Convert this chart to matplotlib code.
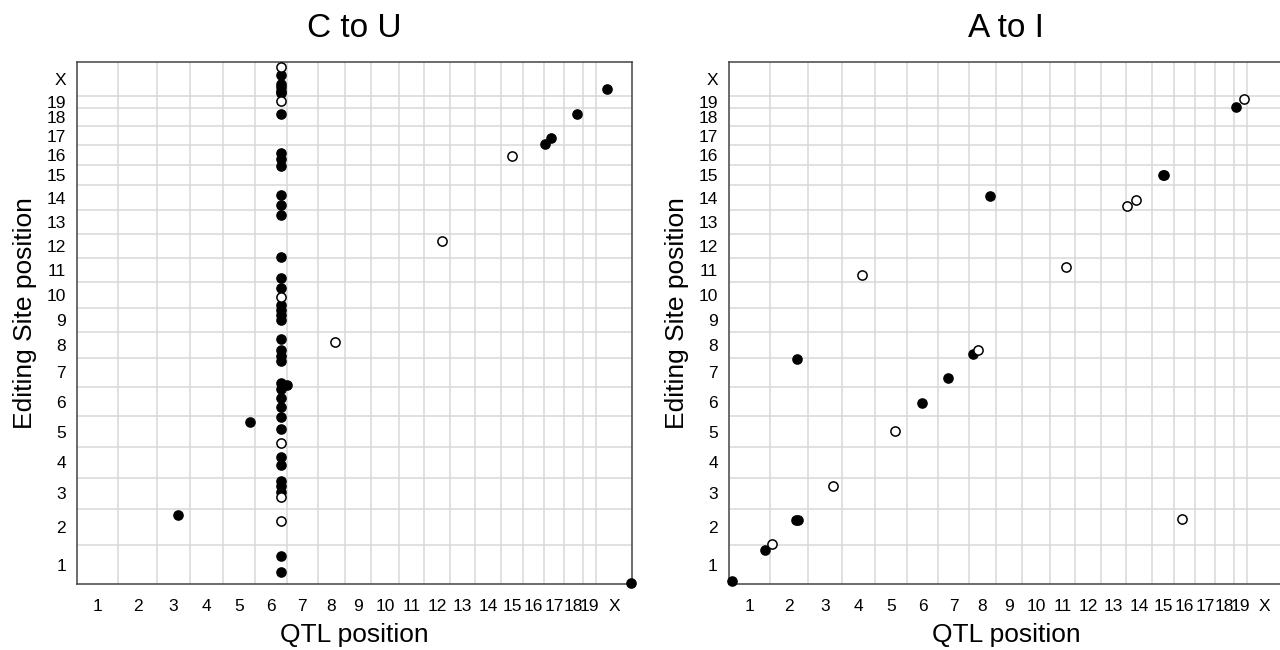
import numpy as np
import matplotlib
matplotlib.use("Agg")
import matplotlib.pyplot as plt

plt.rcParams['font.family'] = ['Liberation Sans', 'DejaVu Sans']

# mouse chromosomes and their lengths (Mb)
chroms = [str(i) for i in range(1, 20)] + ['X']
chrom_len = [195.5, 182.1, 160.0, 156.5, 151.8, 149.7, 145.4, 129.4, 124.6, 130.7,
             122.1, 120.1, 120.4, 124.9, 104.0, 98.2, 95.3, 90.7, 61.4, 171.0]

# C to U: genome-wide positions (Mb), filled = 1 / open = 0
ctou_qtl = [966, 966, 966, 968, 966, 968, 966, 968, 966, 968, 966, 966, 966, 968,
            966, 968, 966, 966, 966, 966, 968, 966, 968, 966, 968, 966, 966, 994,
            968, 966, 966, 966, 968, 966, 966, 968, 966, 968, 966, 966, 966, 968, 966,
            821, 478, 1226, 1731, 2062, 2220, 2247, 2374, 2516, 2628]
ctou_site = [2608, 2570, 2524, 2508, 2490, 2477, 2440, 2371, 2174, 2144, 2110, 1964,
             1913, 1863, 1652, 1546, 1493, 1450, 1408, 1383, 1358, 1333, 1235, 1181,
             1153, 1126, 1013, 1005, 985, 938, 895, 842, 781, 710, 643, 601, 522, 495,
             466, 438, 318, 143, 59,
             818, 347, 1223, 1732, 2161, 2220, 2250, 2374, 2498, 4]
ctou_filled = [0, 1, 1, 1, 1, 1, 0, 1, 1, 1, 1, 1, 1, 1, 1, 1, 1, 0, 1, 1, 1, 1, 1, 1,
               1, 1, 1, 1, 1, 1, 1, 1, 1, 0, 1, 1, 1, 1, 1, 0, 0, 1, 1,
               1, 1, 0, 0, 0, 1, 1, 1, 1, 1]

# A to I
atoi_qtl = [15, 172, 204, 318, 327, 322, 494, 790, 920, 1043, 1162, 1183, 633, 1240,
            1602, 1893, 1937, 2063, 2068, 2411, 2448, 2153]
atoi_site = [15, 172, 202, 323, 323, 1136, 495, 771, 915, 1039, 1160, 1181, 1562, 1960,
             1600, 1908, 1940, 2065, 2065, 2410, 2447, 327]
atoi_filled = [1, 1, 0, 1, 1, 1, 0, 0, 1, 1, 1, 0, 0, 1, 0, 0, 0, 1, 1, 1, 0, 0]

bounds = np.concatenate([[0], np.cumsum(chrom_len)])
centers = (bounds[:-1] + bounds[1:]) / 2
total = bounds[-1]

fig = plt.figure(figsize=(12.8, 6.5), dpi=100)
ax1 = fig.add_axes([0.0603, 0.1015, 0.4335, 0.8026])
ax2 = fig.add_axes([0.5695, 0.1015, 0.4327, 0.8026])


def draw(ax, qx, sy, filled, title):
    qx = np.array(qx, float)
    sy = np.array(sy, float)
    f = np.array(filled, bool)
    ax.scatter(qx[f], sy[f], s=44, color='black', zorder=3, clip_on=False)
    ax.scatter(qx[~f], sy[~f], s=44, facecolor='white', edgecolor='black',
               linewidths=1.1, zorder=4, clip_on=False)
    ax.set_xlim(0, total)
    ax.set_ylim(0, total)
    ax.set_xticks(centers)
    ax.set_xticklabels(chroms)
    ax.set_yticks(centers)
    ax.set_yticklabels(chroms)
    ax.set_xticks(bounds[1:-1], minor=True)
    ax.set_yticks(bounds[1:-1], minor=True)
    ax.tick_params(which='both', length=0, labelsize=12.5)
    ax.tick_params(axis='x', pad=11)
    ax.tick_params(axis='y', pad=8)
    ax.grid(which='minor', color='#d9d9d9', linewidth=1.1)
    ax.set_axisbelow(True)
    for s in ax.spines.values():
        s.set_color('#444444')
        s.set_linewidth(1.1)
    ax.set_title(title, fontsize=24, pad=18)
    ax.set_xlabel('QTL position', fontsize=19)
    ax.set_ylabel('Editing Site position', fontsize=19)
    ax.xaxis.set_label_coords(0.5, -0.075)
    ax.yaxis.set_label_coords(-0.072, 0.52)


draw(ax1, ctou_qtl, ctou_site, ctou_filled, 'C to U')
draw(ax2, atoi_qtl, atoi_site, atoi_filled, 'A to I')

fig.savefig('out.png', dpi=100)
